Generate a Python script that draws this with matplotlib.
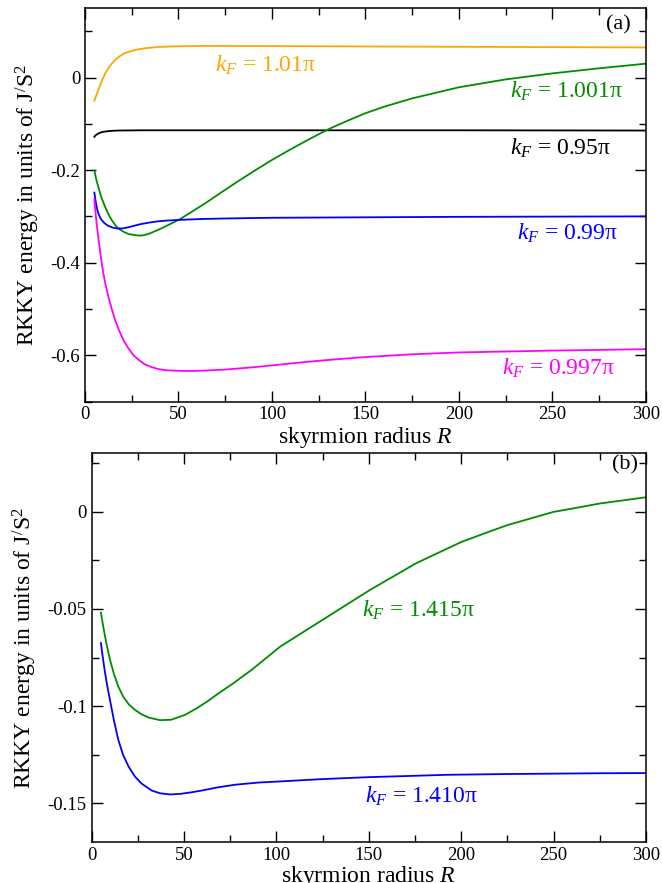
import matplotlib
matplotlib.use("Agg")
import matplotlib.pyplot as plt
from matplotlib.ticker import MultipleLocator, FormatStrFormatter

plt.rcParams['font.family'] = 'serif'
plt.rcParams['font.serif'] = ['Liberation Serif', 'DejaVu Serif']
plt.rcParams['mathtext.fontset'] = 'custom'
plt.rcParams['mathtext.rm'] = 'Liberation Serif'
plt.rcParams['mathtext.it'] = 'Liberation Serif:italic'
plt.rcParams['axes.unicode_minus'] = False

# panel (a): energy vs skyrmion radius
r_orange = [5, 6, 7.1, 8.4, 9.8, 11.1, 12.5, 14.3, 16.1, 18.5, 21.4, 24.8, 28.5, 33, 39.2, 46, 53.5,
            64.2, 100, 158, 230, 300]
e_orange = [-0.050, -0.039, -0.027, -0.013, 0.000, 0.011, 0.020, 0.030, 0.038, 0.046, 0.053, 0.0575,
            0.061, 0.0638, 0.066, 0.0672, 0.0678, 0.0683, 0.068, 0.067, 0.066, 0.065]

r_black = [5, 5.5, 6, 7.1, 8, 9, 10.5, 12, 15, 18, 25, 30, 100, 200, 300]
e_black = [-0.128, -0.1255, -0.1238, -0.121, -0.1195, -0.118, -0.1168, -0.116, -0.115, -0.1145,
           -0.1142, -0.114, -0.114, -0.114, -0.1145]

r_green = [5, 6, 7.1, 8.5, 10.7, 12.5, 14.3, 16, 17.8, 20.5, 23.2, 26, 28.5, 31, 33.9, 39.2, 44.6,
           50.8, 57.1, 64.2, 70, 80, 90, 100, 110, 120, 130, 140, 150, 160, 175, 200, 225, 250,
           275, 300]
e_green = [-0.201, -0.220, -0.236, -0.256, -0.279, -0.295, -0.308, -0.318, -0.326, -0.333, -0.338,
           -0.340, -0.3415, -0.341, -0.338, -0.329, -0.3185, -0.306, -0.290, -0.272, -0.256, -0.229,
           -0.203, -0.178, -0.155, -0.133, -0.112, -0.094, -0.077, -0.063, -0.045, -0.021, -0.004,
           0.009, 0.020, 0.030]

r_blue = [5, 5.6, 6.2, 7, 8, 8.9, 10.5, 12.5, 15, 17.8, 20.5, 23.2, 26.5, 30.3, 34.5, 39.2, 44, 49.9,
          57, 64.2, 73, 83, 100, 125, 150, 200, 250, 300]
e_blue = [-0.2486, -0.265, -0.279, -0.292, -0.302, -0.308, -0.315, -0.3206, -0.3245, -0.3264,
          -0.3258, -0.3235, -0.3200, -0.3163, -0.3133, -0.3106, -0.3090, -0.3077, -0.3065, -0.3055,
          -0.3047, -0.304, -0.303, -0.3025, -0.302, -0.301, -0.3005, -0.300]

r_magenta = [5, 5.6, 6.2, 7.1, 8.0, 8.9, 9.8, 11.1, 12.5, 14.3, 16.1, 18.3, 20.5, 23.2, 25.9, 29,
             32.1, 35.5, 39.2, 43.5, 48.2, 53, 58, 65, 75, 90, 100, 112, 125, 137, 150, 175, 200,
             225, 250, 275, 300]
e_magenta = [-0.263, -0.290, -0.315, -0.345, -0.373, -0.399, -0.423, -0.450, -0.4735, -0.500,
             -0.524, -0.547, -0.567, -0.585, -0.600, -0.611, -0.620, -0.6255, -0.630, -0.6325,
             -0.6335, -0.634, -0.634, -0.633, -0.631, -0.626, -0.622, -0.617, -0.612, -0.608,
             -0.604, -0.598, -0.594, -0.592, -0.590, -0.5885, -0.587]

# panel (b)
r_green_b = [5, 6, 7, 8, 9.9, 12, 14.4, 17, 20, 23.4, 27, 31, 37, 43, 50.5, 57, 63, 68.5, 77, 86.6,
             94, 102, 110, 120, 130, 140, 150, 160, 170, 175, 185, 200, 212.5, 225, 237.5, 250,
             262.5, 275, 287.5, 300]
e_green_b = [-0.0519, -0.0577, -0.0630, -0.0679, -0.0761, -0.0833, -0.0899, -0.0950, -0.0990,
             -0.1019, -0.1042, -0.1059, -0.1072, -0.1070, -0.1045, -0.1010, -0.0973, -0.0935,
             -0.0880, -0.0813, -0.0756, -0.0694, -0.0646, -0.0586, -0.0526, -0.0466, -0.0406,
             -0.0351, -0.0296, -0.0268, -0.0223, -0.0156, -0.0112, -0.0069, -0.0035, -0.0001,
             0.0020, 0.0042, 0.0058, 0.0074]

r_blue_b = [5, 6, 7, 8, 9, 9.9, 12, 14.4, 17, 20, 23.4, 27, 32.5, 37, 42.4, 48, 54, 59.5, 68, 77.6,
            90, 102, 125, 150, 175, 192, 225, 250, 275, 300]
e_blue_b = [-0.0676, -0.0748, -0.0814, -0.0873, -0.0925, -0.0968, -0.1072, -0.1173, -0.1251,
            -0.1311, -0.1362, -0.1398, -0.1434, -0.1448, -0.1454, -0.1451, -0.1443, -0.1434,
            -0.1418, -0.1404, -0.1393, -0.1387, -0.1375, -0.1365, -0.1358, -0.1353, -0.1349,
            -0.1347, -0.1345, -0.1344]

c_orange = '#FFA500'
c_green = '#008C00'
c_blue = '#0000FF'
c_magenta = '#FF00FF'

fig = plt.figure(figsize=(6.62, 8.83), dpi=100)
ax1 = fig.add_axes([0.1284, 0.5453, 0.8474, 0.4455])
ax2 = fig.add_axes([0.1385, 0.0461, 0.8373, 0.4405])

lw = 1.3
ax1.plot(r_orange, e_orange, color=c_orange, lw=lw)
ax1.plot(r_black, e_black, color='black', lw=lw)
ax1.plot(r_green, e_green, color=c_green, lw=lw)
ax1.plot(r_blue, e_blue, color=c_blue, lw=lw)
ax1.plot(r_magenta, e_magenta, color=c_magenta, lw=lw)

lab_fs = 17
ax1.text(69.6, 0.027, r"$k_F$ = 1.01π", color=c_orange, fontsize=lab_fs, va='center')
ax1.text(227.4, -0.030, r"$k_F$ = 1.001π", color=c_green, fontsize=lab_fs, va='center')
ax1.text(227.4, -0.153, r"$k_F$ = 0.95π", color='black', fontsize=lab_fs, va='center')
ax1.text(231, -0.336, r"$k_F$ = 0.99π", color=c_blue, fontsize=lab_fs, va='center')
ax1.text(223, -0.628, r"$k_F$ = 0.997π", color=c_magenta, fontsize=lab_fs, va='center')
ax1.text(291.6, 0.114, "(a)", fontsize=16, ha='right', va='center')

ax1.set_xlim(0, 300)
ax1.set_ylim(-0.7, 0.15)
ax1.yaxis.set_major_locator(MultipleLocator(0.2))
ax1.yaxis.set_minor_locator(MultipleLocator(0.1))

ax2.plot(r_green_b, e_green_b, color=c_green, lw=lw)
ax2.plot(r_blue_b, e_blue_b, color=c_blue, lw=lw)
ax2.text(146.1, -0.0505, r"$k_F$ = 1.415π", color=c_green, fontsize=lab_fs, va='center')
ax2.text(147.9, -0.1465, r"$k_F$ = 1.410π", color=c_blue, fontsize=lab_fs, va='center')
ax2.text(295.6, 0.024, "(b)", fontsize=16, ha='right', va='center')

ax2.set_xlim(0, 300)
ax2.set_ylim(-0.17, 0.03)
ax2.yaxis.set_major_locator(MultipleLocator(0.05))
ax2.yaxis.set_minor_locator(MultipleLocator(0.025))

for ax in (ax1, ax2):
    ax.xaxis.set_major_locator(MultipleLocator(50))
    ax.xaxis.set_minor_locator(MultipleLocator(25))
    ax.yaxis.set_major_formatter(FormatStrFormatter('%g'))
    ax.tick_params(which='both', direction='in', top=True, right=True, labelsize=13.5, width=1.0)
    ax.tick_params(which='major', length=8)
    ax.tick_params(which='minor', length=5)
    for s in ax.spines.values():
        s.set_linewidth(1.1)
    ax.set_ylabel("RKKY energy in units of J$^{/}$S$^{2}$", fontsize=17, labelpad=6)

ax1.set_xlabel("skyrmion radius $R$", fontsize=17, labelpad=1)
ax2.set_xlabel("skyrmion radius $R$", fontsize=17, labelpad=0)

fig.savefig("out.png", dpi=100)
